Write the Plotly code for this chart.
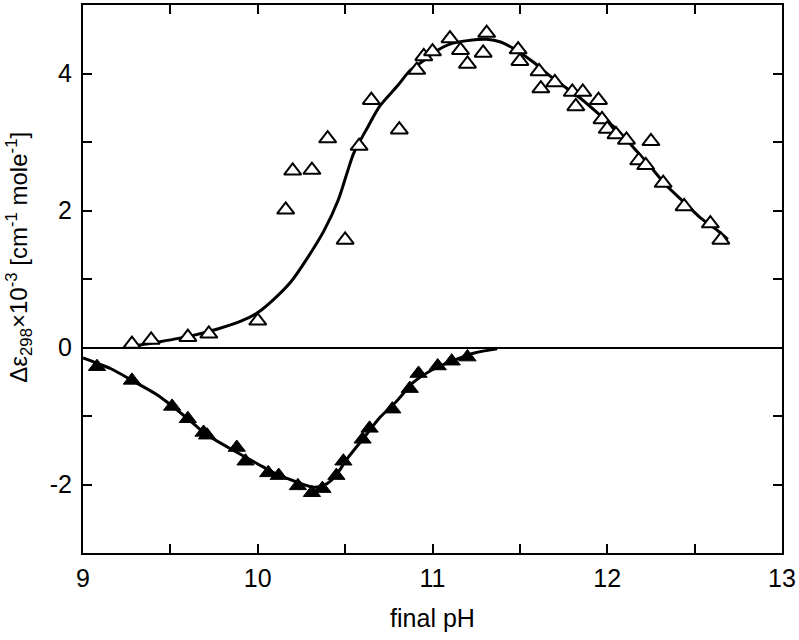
import plotly.graph_objects as go

# Open triangles (upper series) - measured points
open_ph = [9.28, 9.39, 9.60, 9.72, 10.00, 10.16, 10.20, 10.31, 10.40, 10.50, 10.58, 10.65, 10.81,
           10.91, 10.95, 11.00, 11.10, 11.16, 11.20, 11.29, 11.31, 11.49, 11.50, 11.61, 11.62,
           11.70, 11.80, 11.82, 11.86, 11.95, 11.97, 12.00, 12.05, 12.11, 12.25, 12.18, 12.22,
           12.32, 12.44, 12.59, 12.65]
open_de = [0.05, 0.11, 0.15, 0.20, 0.39, 2.01, 2.58, 2.59, 3.05, 1.57, 2.94, 3.61, 3.18,
           4.05, 4.25, 4.32, 4.51, 4.34, 4.14, 4.30, 4.59, 4.35, 4.18, 4.03, 3.78,
           3.87, 3.73, 3.52, 3.73, 3.61, 3.33, 3.19, 3.11, 3.03, 3.01, 2.73, 2.66,
           2.40, 2.06, 1.81, 1.57]

# Fitted curve through the open triangles
open_fit_ph = [9.31, 9.43, 9.62, 9.77, 9.90, 10.00, 10.09, 10.19, 10.28, 10.38, 10.46, 10.51, 10.55,
               10.63, 10.70, 10.80, 10.87, 10.95, 11.01, 11.10, 11.20, 11.31, 11.39, 11.48, 11.58,
               11.67, 11.77, 11.86, 11.96, 12.06, 12.15, 12.25, 12.34, 12.44, 12.53, 12.63, 12.69]
open_fit_de = [0.03, 0.08, 0.17, 0.27, 0.38, 0.51, 0.70, 0.96, 1.29, 1.71, 2.15, 2.54, 2.84,
               3.22, 3.53, 3.82, 4.04, 4.19, 4.31, 4.43, 4.48, 4.50, 4.46, 4.34, 4.16,
               3.97, 3.78, 3.61, 3.39, 3.17, 2.92, 2.63, 2.36, 2.12, 1.90, 1.71, 1.58]

# Filled triangles (lower series)
filled_ph = [9.08, 9.28, 9.51, 9.60, 9.69, 9.71, 9.88, 9.93, 10.06, 10.12, 10.23, 10.31, 10.37,
             10.45, 10.49, 10.60, 10.64, 10.77, 10.87, 10.92, 11.03, 11.11, 11.20]
filled_de = [-0.28, -0.48, -0.86, -1.04, -1.24, -1.28, -1.46, -1.66, -1.83, -1.87, -2.02, -2.12, -2.06,
             -1.87, -1.66, -1.34, -1.18, -0.90, -0.60, -0.38, -0.27, -0.20, -0.14]

filled_fit_ph = [9.00, 9.05, 9.16, 9.28, 9.43, 9.60, 9.70, 9.88, 10.00, 10.11, 10.23, 10.32, 10.38,
                 10.44, 10.51, 10.61, 10.70, 10.80, 10.89, 11.01, 11.14, 11.24, 11.37]
filled_fit_de = [-0.15, -0.20, -0.31, -0.48, -0.70, -1.04, -1.26, -1.53, -1.70, -1.85, -1.97, -2.04, -2.01,
                 -1.89, -1.63, -1.31, -1.02, -0.77, -0.51, -0.31, -0.17, -0.08, -0.02]

x_tickvals = [9, 9.5, 10, 10.5, 11, 11.5, 12, 12.5, 13]
x_ticktext = ["9", "", "10", "", "11", "", "12", "", "13"]
y_tickvals = [-3, -2, -1, 0, 1, 2, 3, 4, 5]
y_ticktext = ["", "-2", "", "0", "", "2", "", "4", ""]

tick_font = dict(family="Liberation Sans Narrow, Arial Narrow, Liberation Sans, Arial", size=25, color="black")

fig = go.Figure()
fig.add_trace(go.Scatter(x=open_fit_ph, y=open_fit_de, mode="lines",
                         line=dict(color="black", width=3, shape="spline", smoothing=0.8),
                         showlegend=False, hoverinfo="skip"))
fig.add_trace(go.Scatter(x=filled_fit_ph, y=filled_fit_de, mode="lines",
                         line=dict(color="black", width=3, shape="spline", smoothing=0.8),
                         showlegend=False, hoverinfo="skip"))
fig.add_trace(go.Scatter(x=open_ph, y=open_de, mode="markers",
                         marker=dict(symbol="triangle-up", size=15, color="white", line=dict(color="black", width=2)),
                         showlegend=False))
fig.add_trace(go.Scatter(x=filled_ph, y=filled_de, mode="markers",
                         marker=dict(symbol="triangle-up", size=15, color="black", line=dict(color="black", width=1)),
                         showlegend=False))

axis_common = dict(showline=True, linecolor="black", linewidth=2, mirror="ticks", ticks="inside",
                   ticklen=9, tickwidth=2, tickcolor="black", showgrid=False, tickfont=tick_font)

fig.update_xaxes(range=[9, 13], tickmode="array", tickvals=x_tickvals, ticktext=x_ticktext,
                 zeroline=False, ticklabelstandoff=2,
                 title=dict(text="final pH", font=tick_font, standoff=18), **axis_common)
fig.update_yaxes(range=[-3, 5], tickmode="array", tickvals=y_tickvals, ticktext=y_ticktext,
                 zeroline=True, zerolinecolor="black", zerolinewidth=1.5, ticklabelstandoff=4,
                 **axis_common)

fig.add_annotation(text="Δε<sub>298</sub>×10<sup>-3</sup> [cm<sup>-1</sup> mole<sup>-1</sup>]",
                   xref="paper", yref="paper", x=-0.092, y=0.54, textangle=-90,
                   xanchor="center", yanchor="middle", showarrow=False,
                   font=dict(family="Liberation Sans, Arial", size=24, color="black"))

fig.update_layout(width=799, height=640, margin=dict(l=83, r=17, t=5, b=87, autoexpand=False),
                  plot_bgcolor="white", paper_bgcolor="white")

fig.write_html("out.html", config={"displayModeBar": False},
               post_script="document.body.style.margin='0';document.body.style.overflow='hidden';")
